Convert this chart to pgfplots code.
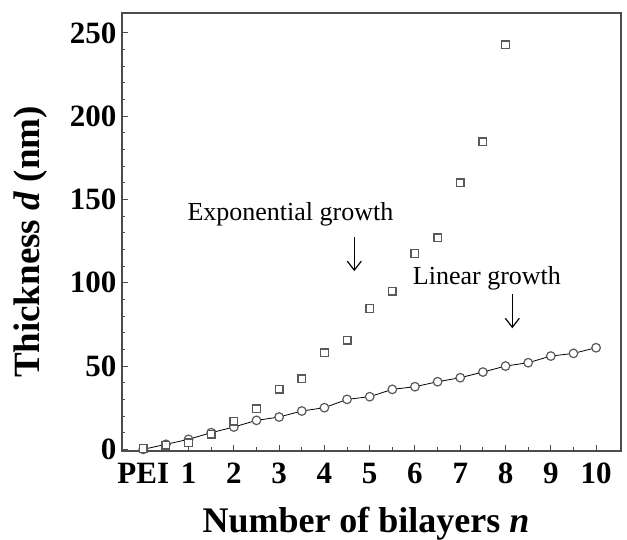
\documentclass[border=0pt]{standalone}
\usepackage{pgfplots}
\pgfplotsset{compat=1.18}
\usepackage{fontspec}
\setmainfont{Liberation Serif}
\usetikzlibrary{arrows.meta}
\definecolor{mk}{gray}{0.35}
\definecolor{ax}{gray}{0.3}

\pgfplotstableread{
x y
0 0
0.5 3
1 6
1.5 10
2 13.4
2.5 17.4
3 19.4
3.5 23
4 25
4.5 30
5 31.6
5.5 36
6 37.6
6.5 40.6
7 43
7.5 46.4
8 50
8.5 52
9 56
9.5 57.6
10 61
}\lineardata

\pgfplotstableread{
x y
0 0.5
0.5 2.4
1 4
1.5 9
2 17
2.5 24.4
3 36
3.5 42.4
4 58
4.5 65.6
5 84.6
5.5 95
6 117.6
6.5 127
7 160
7.5 184.6
8 243
}\expdata

\begin{document}
\begin{tikzpicture}
\begin{axis}[
  scale only axis,
  width=499pt, height=438pt,
  xmin=-0.47, xmax=10.55,
  ymin=-1, ymax=262,
  xtick={0,1,2,3,4,5,6,7,8,9,10},
  xticklabels={PEI,1,2,3,4,5,6,7,8,9,10},
  minor xtick={0.5,1.5,...,9.5},
  ytick={0,50,100,150,200,250},
  minor y tick num=4,
  tick align=inside,
  xtick pos=left, ytick pos=left,
  major tick length=6pt, minor tick length=3.5pt,
  every tick/.style={ax, line width=1pt},
  axis line style={ax, line width=1.3pt},
  /pgf/number format/assume math mode=true,
  ticklabel style={font=\bfseries\fontsize{31}{33}\selectfont},
  xticklabel style={anchor=base, yshift=-33pt},
  yticklabel style={xshift=-2pt},
  every axis y label/.style={at={(axis description cs:-0.184,0.477)}, rotate=90, anchor=center},
  every axis x label/.style={at={(axis description cs:0.489,-0.187)}, anchor=base},
  xlabel={\fontsize{36}{38}\selectfont\bfseries Number of bilayers \textit{n}},
  ylabel={\fontsize{37}{39}\selectfont\bfseries Thickness \textit{d} (nm)},
  clip=false,
]
\addplot[black, line width=0.8pt, mark=*, mark size=4.3pt,
  mark options={draw=mk, fill=white, line width=1.2pt}] table[x=x,y=y] {\lineardata};
\addplot[only marks, mark=square*, mark size=3.8pt,
  mark options={draw=mk, fill=white, line width=1.4pt}] table[x=x,y=y] {\expdata};
\node[font=\fontsize{26}{28}\selectfont] at (axis cs:3.25,141) {Exponential growth};
\node[font=\fontsize{26}{28}\selectfont] at (axis cs:7.59,103) {Linear growth};
\draw[line width=1.2pt, -{Straight Barb[length=9pt,width=14pt,line width=1.2pt]}] (axis cs:4.66,127.4) -- (axis cs:4.66,107);
\draw[line width=1.2pt, -{Straight Barb[length=9pt,width=14pt,line width=1.2pt]}] (axis cs:8.15,93) -- (axis cs:8.15,72.7);
\end{axis}
\pgfresetboundingbox
\path[use as bounding box] (-122pt,-89pt) rectangle (505pt,451pt);
\end{tikzpicture}
\end{document}
